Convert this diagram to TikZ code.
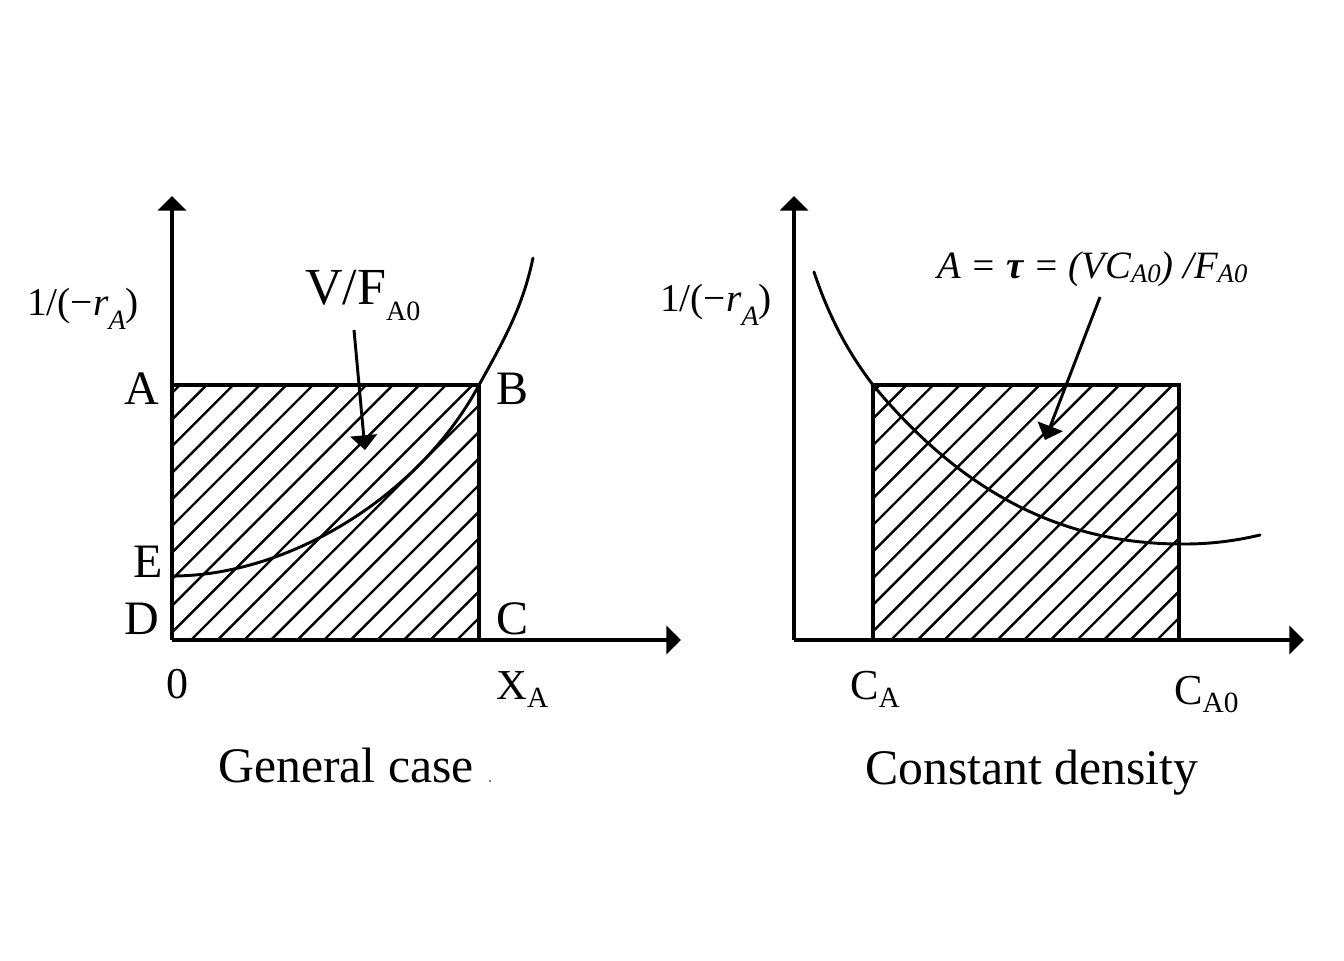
\documentclass[tikz,border=0pt]{standalone}
\usepackage{fontspec}
\setmainfont{Liberation Serif}
\usetikzlibrary{arrows.meta}
\newcommand{\dropped}[3]{\raisebox{-#1}{\fontsize{#2}{#2}\selectfont #3}}
\tikzset{
  x=0.75pt,y=-0.75pt,
  axisline/.style={line width=2.6pt,-{Triangle[width=21pt,length=11pt]}},
  framebox/.style={line width=2.6pt,line join=miter},
  hatchline/.style={line width=1.8pt},
  curveline/.style={line width=2.2pt,line cap=round},
  pointer/.style={line width=2.2pt,-{Triangle[width=20pt,length=11pt]}},
  lab/.style={inner sep=0pt,anchor=base west,font=\fontsize{36pt}{36pt}\selectfont},
  captext/.style={inner sep=0pt,anchor=base west,font=\fontsize{37.3pt}{37.3pt}\selectfont},
  ylab/.style={inner sep=0pt,anchor=base west,font=\fontsize{29.5pt}{29.5pt}\selectfont}
}
\begin{document}
\begin{tikzpicture}
\useasboundingbox (0,0) rectangle (1344,960);
% left hatching
\begin{scope}
\clip (172,385) rectangle (479,640);
\foreach \k in {-3,...,20}{
  \draw[hatchline] ({180+26.6*\k},385) -- ({180+26.6*\k-255},640);
}
\end{scope}
% right hatching
\begin{scope}
\clip (873,385) rectangle (1179,640);
\foreach \k in {-3,...,20}{
  \draw[hatchline] ({880+26.6*\k},385) -- ({880+26.6*\k-255},640);
}
\end{scope}
% anchors
\coordinate (oL) at (172,640);
\coordinate (topL) at (172,196);
\coordinate (rightL) at (681,640);
\coordinate (rAL) at (172,385);
\coordinate (rBL) at (479,385);
\coordinate (rCL) at (479,640);
\coordinate (oR) at (794,640);
\coordinate (topR) at (794,196);
\coordinate (rightR) at (1304,640);
\coordinate (rAR) at (873,385);
\coordinate (rBR) at (1179,385);
\coordinate (rCR) at (1179,640);
\coordinate (rDR) at (873,640);
\coordinate (eL) at (172,576);
\coordinate (endL) at (533,258);
\coordinate (startR) at (814,272);
\coordinate (endR) at (1260,535);
\coordinate (tipL) at (365,450);
\coordinate (tipR) at (1045,440);
% frames
\draw[framebox] (rAL) -- (rBL) -- (rCL);
\draw[framebox] (rDR) -- (rAR) -- (rBR) -- (rCR);
% axes
\draw[axisline] (oL) -- (topL);
\draw[axisline] (oL) -- (rightL);
\draw[axisline] (oR) -- (topR);
\draw[axisline] (oR) -- (rightR);
% curves
\draw[curveline] (eL) .. controls (290,576) and (420,495) .. (rBL) .. controls (507,335) and (523,305) .. (endL);
\draw[curveline] (startR) .. controls (830,320) and (850,355) .. (rAR) .. controls (960,490) and (1060,545) .. (1185,544) .. controls (1210,544) and (1235,541) .. (endR);
% left labels
\node[ylab] (yL) at (27,315) {1/(−\textit{r}\dropped{11pt}{21pt}{\textit{A}})};
\node[lab] (nA) at (124,404) {A};
\node[lab] (nB) at (496,404) {B};
\node[lab] (nE) at (133,577) {E};
\node[lab] (nD) at (124,634) {D};
\node[lab] (nC) at (496,634) {C};
\node[ylab,font=\fontsize{33pt}{33pt}\selectfont] (nZero) at (166,698) {0};
\node[ylab,font=\fontsize{32pt}{32pt}\selectfont] (nX) at (496,699) {X\dropped{6pt}{22pt}{A}};
\node[lab,font=\fontsize{39pt}{39pt}\selectfont] (nV) at (305,304) {V/F\dropped{12pt}{21pt}{A0}};
\node[captext] (capL) at (218,782) {General case};
\node[inner sep=0pt,fill=gray,minimum width=2pt,minimum height=1.5pt] (capDot) at (490,781) {};
\coordinate (startPL) at (354,330);
\draw[pointer] (startPL) -- (tipL);
% right labels
\node[ylab] (yR) at (660,311) {1/(−\textit{r}\dropped{11pt}{21pt}{\textit{A}})};
\node[ylab,font=\fontsize{32pt}{32pt}\selectfont] (nCA) at (850,699) {C\dropped{6pt}{22pt}{A}};
\node[ylab,font=\fontsize{32pt}{32pt}\selectfont] (nCA0) at (1174,704) {C\dropped{6pt}{22pt}{A0}};
\node[captext] (capR) at (865,784) {Constant density};
\node[ylab,font=\fontsize{29pt}{29pt}\selectfont\itshape] (nTau) at (937,278) {A = \textbf{τ} = (VC\dropped{3pt}{20pt}{A0}) /F\dropped{3pt}{20pt}{A0}};
\coordinate (startPR) at (1100,297);
\draw[pointer] (startPR) -- (tipR);
\end{tikzpicture}
\end{document}
